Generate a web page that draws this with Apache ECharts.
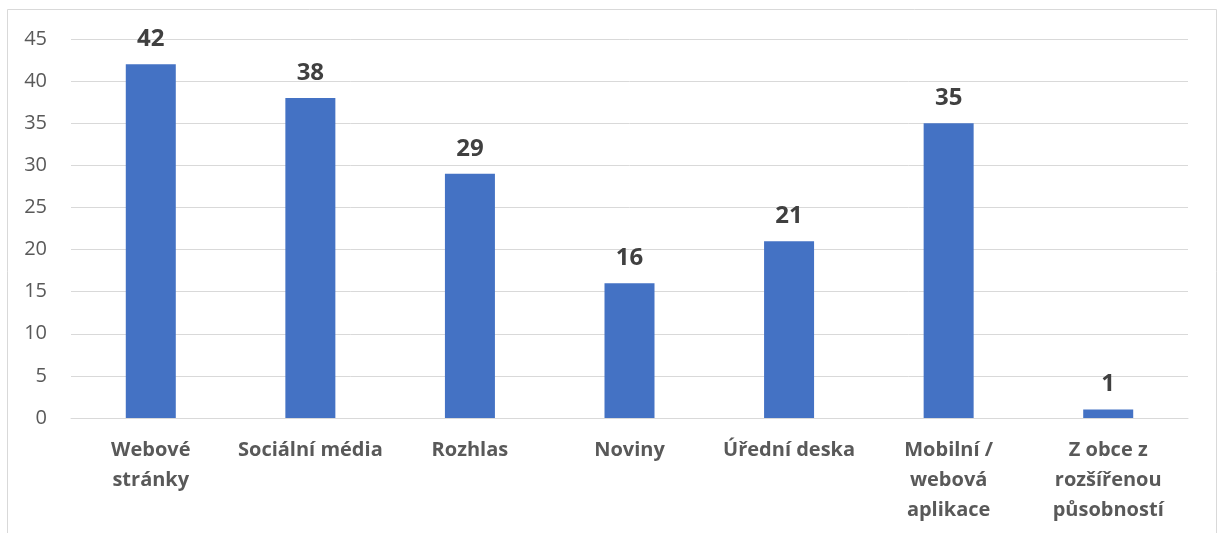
<!DOCTYPE html>
<html>
<head>
<meta charset="utf-8">
<script src="https://cdn.jsdelivr.net/npm/echarts@6/dist/echarts.min.js"></script>
<style>
  html, body { margin: 0; padding: 0; background: #ffffff; }
  #chart { width: 1222px; height: 533px; }
</style>
</head>
<body>
<div id="chart"></div>
<script>
// Kanály, ze kterých obce získávají informace (počet odpovědí)
const categories = [
  'Webové\nstránky',
  'Sociální média',
  'Rozhlas',
  'Noviny',
  'Úřední deska',
  'Mobilní /\nwebová\naplikace',
  'Z obce z\nrozšířenou\npůsobností'
];
const values = [42, 38, 29, 16, 21, 35, 1];
const yTicks = { min: 0, max: 45, interval: 5 };

const FONT = '"Open Sans", Lato, sans-serif';

const chart = echarts.init(document.getElementById('chart'), null, { renderer: 'canvas' });
chart.setOption({
  animation: false,
  backgroundColor: '#ffffff',
  graphic: [{
    type: 'rect',
    shape: { x: 7.5, y: 9.5, width: 1209, height: 540 },
    style: { fill: 'none', stroke: '#d9d9d9', lineWidth: 1 },
    silent: true
  }],
  grid: { left: 71, right: 34, top: 39, bottom: 115, containLabel: false },
  xAxis: {
    type: 'category',
    data: categories,
    axisLine: { show: true, lineStyle: { color: '#d9d9d9', width: 1 } },
    axisTick: { show: false },
    axisLabel: {
      color: '#595959',
      fontFamily: FONT,
      fontWeight: 'bold',
      fontSize: 20,
      lineHeight: 30,
      margin: 17,
      interval: 0
    }
  },
  yAxis: {
    type: 'value',
    min: yTicks.min,
    max: yTicks.max,
    interval: yTicks.interval,
    axisLine: { show: false },
    axisTick: { show: false },
    splitLine: { lineStyle: { color: '#d9d9d9', width: 1 } },
    axisLabel: {
      color: '#595959',
      fontFamily: FONT,
      fontSize: 20,
      margin: 24
    }
  },
  series: [{
    type: 'bar',
    data: values,
    barWidth: 50,
    itemStyle: { color: '#4472c4' },
    label: {
      show: true,
      position: 'top',
      distance: 13,
      color: '#404040',
      fontFamily: FONT,
      fontWeight: 'bold',
      fontSize: 24
    }
  }]
});
</script>
</body>
</html>
